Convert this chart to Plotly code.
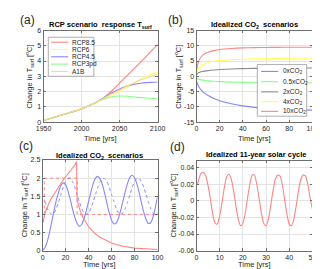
import plotly.graph_objects as go

W, H = 320, 269

# ---------------- data ----------------
# (a) RCP scenarios
years_a = [1950, 1960, 1970, 1980, 1990, 2000, 2010, 2020, 2030, 2040, 2050, 2060, 2070, 2080, 2090, 2100]
rcp85 = [0.1, 0.25, 0.4, 0.55, 0.7, 0.86, 1.08, 1.32, 1.62, 2.05, 2.55, 3.05, 3.55, 4.05, 4.57, 5.08]
rcp6 = [0.1, 0.25, 0.4, 0.55, 0.7, 0.86, 1.08, 1.32, 1.55, 1.78, 2.0, 2.28, 2.58, 2.85, 3.08, 3.28]
rcp45 = [0.1, 0.25, 0.4, 0.55, 0.7, 0.86, 1.08, 1.32, 1.62, 1.92, 2.17, 2.36, 2.48, 2.56, 2.6, 2.63]
rcp3pd = [0.1, 0.25, 0.4, 0.55, 0.7, 0.86, 1.08, 1.32, 1.52, 1.66, 1.71, 1.69, 1.64, 1.6, 1.56, 1.52]
a1b = [0.12, 0.27, 0.42, 0.57, 0.72, 0.88, 1.09, 1.32, 1.58, 1.85, 2.1, 2.36, 2.6, 2.8, 2.97, 3.12]
names_a = ["RCP8.5", "RCP6", "RCP4.5", "RCP3pd", "A1B"]

# (b) idealized CO2 scenarios
t_b = [0.5, 1, 2, 3, 5, 7, 10, 15, 20, 30, 40, 50, 60, 70, 80, 90, 100]
co2_0 = [-1.8, -2.6, -3.4, -4.0, -4.9, -5.6, -6.3, -7.3, -8.0, -9.0, -9.7, -10.2, -10.5, -10.75, -10.9, -11.0, -11.1]
co2_05 = [-0.6, -0.8, -1.0, -1.1, -1.25, -1.35, -1.5, -1.65, -1.75, -1.9, -2.0, -2.1, -2.12, -2.15, -2.17, -2.19, -2.2]
co2_2 = [0.7, 0.95, 1.2, 1.35, 1.55, 1.7, 1.85, 2.05, 2.2, 2.38, 2.5, 2.58, 2.63, 2.67, 2.7, 2.72, 2.74]
co2_4 = [1.1, 1.8, 2.6, 3.1, 3.7, 4.1, 4.5, 4.9, 5.15, 5.45, 5.6, 5.7, 5.78, 5.83, 5.87, 5.9, 5.92]
co2_10 = [2.5, 3.8, 5.0, 5.8, 6.8, 7.4, 7.9, 8.4, 8.75, 9.1, 9.3, 9.4, 9.45, 9.48, 9.5, 9.52, 9.53]
names_b = ["0xCO<sub>2</sub>", "0.5xCO<sub>2</sub>", "2xCO<sub>2</sub>", "4xCO<sub>2</sub>", "10xCO<sub>2</sub>"]

# (c) idealized step / periodic CO2
t_c_red = [0.5, 1, 2, 3, 4, 6, 8, 10, 12, 14, 16, 18, 20, 22, 24, 26, 28, 29.5, 30, 31, 32, 33, 35, 37, 40,
           43, 46, 50, 55, 60, 65, 70, 80, 90, 100]
resp_step = [0.78, 0.9, 1.02, 1.12, 1.2, 1.34, 1.46, 1.57, 1.67, 1.77, 1.86, 1.95, 2.04, 2.12, 2.2, 2.28, 2.36,
             2.45, 1.4, 1.28, 1.17, 1.07, 0.92, 0.8, 0.66, 0.55, 0.46, 0.37, 0.28, 0.21, 0.16, 0.12, 0.07,
             0.045, 0.03]
t_c_step = [1.5, 1.5, 30, 30, 100]
forc_step = [1.0, 2.0, 2.0, 1.0, 1.0]
t_c_blue = [0, 2, 4, 6, 8, 10, 12, 14, 16, 18, 20, 22, 24, 26, 28, 30, 32, 34, 36, 38, 40, 42, 44, 46, 48, 50,
            52, 54, 56, 58, 60, 62, 64, 66, 68, 70, 72, 74, 76, 78, 80, 82, 84, 86, 88, 90, 92, 94, 96, 98, 100]
resp_sin = [0.0, 0.08, 0.25, 0.5, 0.8, 1.12, 1.4, 1.62, 1.8, 1.87, 1.82, 1.65, 1.42, 1.15, 0.92, 0.75, 0.67,
            0.72, 0.88, 1.1, 1.36, 1.62, 1.85, 2.0, 2.05, 1.98, 1.82, 1.58, 1.3, 1.04, 0.84, 0.74, 0.76, 0.9,
            1.12, 1.38, 1.64, 1.87, 2.03, 2.08, 2.01, 1.84, 1.6, 1.32, 1.06, 0.86, 0.75, 0.77, 0.92, 1.18, 1.5]
t_c_bdot = [2, 4, 6, 8, 10, 12, 14, 16, 18, 20, 22, 24, 26, 28, 30, 32, 34, 36, 38, 40, 42, 44, 46, 48, 50,
            52, 54, 56, 58, 60, 62, 64, 66, 68, 70, 72, 74, 76, 78, 80, 82, 84, 86, 88, 90, 92, 94, 96, 98, 100]
forc_sin = [1.35, 1.17, 1.04, 1.0, 1.04, 1.17, 1.35, 1.55, 1.75, 1.9, 1.99, 1.99, 1.9, 1.75, 1.55, 1.35, 1.17,
            1.04, 1.0, 1.04, 1.17, 1.35, 1.55, 1.75, 1.9, 1.99, 1.99, 1.9, 1.75, 1.55, 1.35, 1.17, 1.04, 1.0,
            1.04, 1.17, 1.35, 1.55, 1.75, 1.9, 1.99, 1.99, 1.9, 1.75, 1.55, 1.35, 1.17, 1.04, 1.0, 1.04]

# (d) 11-year solar cycle
t_d = [0.5, 1, 2, 3, 4, 5, 6, 7, 8, 9, 10, 11, 12, 13, 14, 15, 16, 17, 18, 19, 20, 21, 22, 23, 24, 25,
       26, 27, 28, 29, 30, 31, 32, 33, 34, 35, 36, 37, 38, 39, 40, 41, 42, 43, 44, 45, 46, 47, 48, 49, 50]
solar = [0.020, 0.026, 0.033, 0.034, 0.030, 0.018, 0.002, -0.016, -0.027, -0.028, -0.018, -0.002, 0.016,
         0.029, 0.032, 0.026, 0.012, -0.006, -0.022, -0.030, -0.027, -0.015, 0.003, 0.020, 0.031, 0.031,
         0.020, 0.003, -0.015, -0.027, -0.030, -0.022, -0.006, 0.012, 0.026, 0.031, 0.030, 0.020, 0.002,
         -0.016, -0.028, -0.030, -0.022, -0.006, 0.012, 0.026, 0.031, 0.030, 0.020, 0.004, -0.010]

# tick labels
ticks_a_y = [0, 1, 2, 3, 4, 5, 6]
ticks_b_y = [-15, -10, -5, 0, 5, 10, 15]
ticklab_b_y = ["-15", "-10", "-5", "0", "5", "10", "15"]
ticks_c_y = [0, 0.5, 1, 1.5, 2, 2.5]
ticklab_c_y = ["0", "0.5", "1", "1.5", "2", "2.5"]
ticks_d_y = [-0.06, -0.04, -0.02, 0, 0.02, 0.04]
ticklab_d_y = ["-0.06", "-0.04", "-0.02", "0", "0.02", "0.04"]

# ---------------- styling ----------------
RED = "#ff8484"
YEL = "#ffff5e"
BLU = "#8686ff"
GRN = "#86ff86"
ORA = "#ffd68a"
GRY = "#8a8a8a"
FONT = "Liberation Sans"
TXT = "#262626"


def px(x):
    return x / W


def py(y):
    return 1 - y / H


fig = go.Figure()


def line(x, y, color, xa, ya, dash="solid", shape="spline", width=1.1):
    fig.add_trace(go.Scatter(x=x, y=y, mode="lines", xaxis=xa, yaxis=ya, showlegend=False,
                             line=dict(color=color, width=width, dash=dash, shape=shape,
                                       smoothing=0.6 if shape == "spline" else None),
                             hoverinfo="skip"))


# (a)
for ys, c in zip([rcp85, rcp6, rcp45, rcp3pd, a1b], [RED, YEL, BLU, GRN, ORA]):
    line(years_a, ys, c, "x", "y")
# (b)
for ys, c in zip([co2_0, co2_05, co2_2, co2_4, co2_10], [BLU, GRN, GRY, YEL, RED]):
    line(t_b, ys, c, "x2", "y2")
# (c)
line(t_c_step, forc_step, RED, "x3", "y3", dash="dot", shape="linear", width=1)
line(t_c_bdot, forc_sin, BLU, "x3", "y3", dash="dot", width=1)
line(t_c_blue, resp_sin, BLU, "x3", "y3")
line(t_c_red, resp_step, RED, "x3", "y3", shape="linear")
# (d)
line(t_d, solar, RED, "x4", "y4")

axis_common = dict(showline=True, mirror="ticks", linecolor="#6e6e6e", linewidth=0.8,
                   ticks="inside", ticklen=2.5, tickcolor="#6e6e6e", tickwidth=0.8,
                   showgrid=True, gridcolor="#e4e4e4", gridwidth=1, zeroline=False,
                   tickfont=dict(family=FONT, size=7, color=TXT))

dom = {
    "a": ([px(29), px(149)], [py(113), py(19)]),
    "b": ([px(190), px(312)], [py(113), py(19)]),
    "c": ([px(28), px(149)], [py(245), py(152)]),
    "d": ([px(190), px(312)], [py(245), py(153)]),
}

fig.update_layout(
    width=W, height=H, margin=dict(l=0, r=0, t=0, b=0),
    paper_bgcolor="white", plot_bgcolor="white", showlegend=False,
    font=dict(family=FONT, color=TXT),
    xaxis=dict(domain=dom["a"][0], anchor="y", range=[1950, 2100], tickvals=[1950, 2000, 2050, 2100], **axis_common),
    yaxis=dict(domain=dom["a"][1], anchor="x", range=[0, 6], tickvals=ticks_a_y, **axis_common),
    xaxis2=dict(domain=dom["b"][0], anchor="y2", range=[0, 100], tickvals=[0, 20, 40, 60, 80, 100], **axis_common),
    yaxis2=dict(domain=dom["b"][1], anchor="x2", range=[-15, 15], tickvals=ticks_b_y, ticktext=ticklab_b_y, **axis_common),
    xaxis3=dict(domain=dom["c"][0], anchor="y3", range=[0, 100], tickvals=[0, 20, 40, 60, 80, 100], **axis_common),
    yaxis3=dict(domain=dom["c"][1], anchor="x3", range=[0, 2.5], tickvals=ticks_c_y, ticktext=ticklab_c_y, **axis_common),
    xaxis4=dict(domain=dom["d"][0], anchor="y4", range=[0, 50], tickvals=[0, 10, 20, 30, 40, 50], **axis_common),
    yaxis4=dict(domain=dom["d"][1], anchor="x4", range=[-0.06, 0.048], tickvals=ticks_d_y, ticktext=ticklab_d_y, **axis_common),
)

ann = []
shapes = []


def text(x, y, s, size=7.5, bold=False, angle=0, xanchor="center"):
    ann.append(dict(x=px(x), y=py(y), xref="paper", yref="paper", text=("<b>%s</b>" % s) if bold else s,
                    showarrow=False, textangle=angle, xanchor=xanchor, yanchor="middle",
                    font=dict(family=FONT, size=size, color="black" if bold else TXT)))


# panel labels
text(12, 8, "(a)", size=12)
text(168, 8, "(b)", size=12)
text(10, 138, "(c)", size=12)
text(170, 139, "(d)", size=12)
# titles
text(89, 13, "RCP scenario\u00a0 response T<sub>surf</sub>", bold=True)
text(251, 13, "Idealized CO<sub>2</sub>\u00a0 scenarios", bold=True)
text(88, 148, "Idealized CO<sub>2</sub>\u00a0 scenarios", bold=True)
text(253, 146, "Idealized 11-year solar cycle", bold=True)
# axis titles
ytitle = "Change in T<sub>surf</sub> [<sup>o</sup>C]"
for (x, y) in [(14, 66), (171, 66), (9, 199), (166, 199)]:
    text(x, y, ytitle, angle=-90)
for (x, y) in [(89, 130), (251, 130), (88, 259), (251, 259)]:
    text(x, y, "Time [yrs]")


# manual legends (in axis-domain coordinates)
def legend(xr, yr, box, lx0, lx1, tx, ys, labels, colors):
    shapes.append(dict(type="rect", xref=xr, yref=yr, x0=box[0], x1=box[1], y0=box[2], y1=box[3],
                       fillcolor="white", line=dict(color="#9a9a9a", width=0.8), layer="above"))
    for yy, lab, c in zip(ys, labels, colors):
        shapes.append(dict(type="line", xref=xr, yref=yr, x0=lx0, x1=lx1, y0=yy, y1=yy,
                           line=dict(color=c, width=1.1), layer="above"))
        ann.append(dict(x=tx, y=yy, xref=xr, yref=yr, text=lab, showarrow=False, xanchor="left",
                        yanchor="middle", font=dict(family=FONT, size=6.5, color=TXT)))


legend("x domain", "y domain", (5 / 120, 53 / 120, 0.5, 0.926), 8 / 120, 26 / 120, 28 / 120,
       [0.872, 0.793, 0.713, 0.633, 0.553], names_a, [RED, YEL, BLU, GRN, ORA])
legend("x2 domain", "y2 domain", (64 / 122, 116 / 122, 0.064, 0.628), 68 / 122, 86 / 122, 89 / 122,
       [0.553, 0.441, 0.330, 0.223, 0.117], names_b, [BLU, GRN, GRY, YEL, RED])

fig.update_layout(annotations=ann, shapes=shapes)
fig.write_html("out.html")
